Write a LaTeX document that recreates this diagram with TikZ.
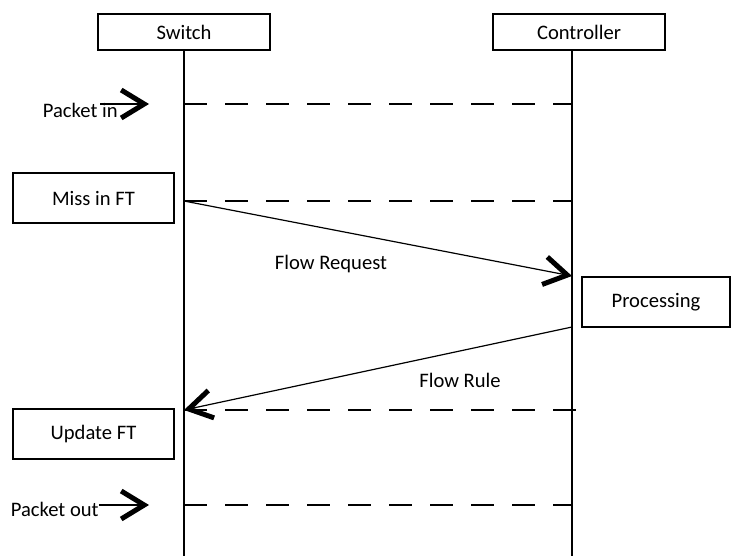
\documentclass[tikz,border=0pt]{standalone}
\usepackage{fontspec}
\setmainfont{Carlito}
\usetikzlibrary{arrows.meta,positioning}

\tikzset{
  actor/.style={draw,line width=0.6pt,inner sep=0pt,minimum width=86pt,minimum height=18pt},
  stepbox/.style={draw,line width=0.6pt,inner sep=0pt,minimum width=80.5pt,minimum height=25pt},
  lifeline/.style={line width=0.6pt},
  guide/.style={line width=0.6pt,dash pattern=on 11.5pt off 9pt},
  msg/.style={line width=0.6pt,-{Straight Barb[length=11.5pt,width=14pt,line width=2.5pt]}},
  lbl/.style={inner sep=0pt}
}

\begin{document}
\begin{tikzpicture}[x=0.5pt,y=-0.5pt,font=\fontsize{10.3}{12}\selectfont]
    \useasboundingbox (0,0) rectangle (731,556);

    % heads and lifelines
    \node[actor] (sw) at (184,32) {Switch};
    \node[actor] (ctl) at (579,32) {Controller};
    \coordinate (swEnd) at (184,556);
    \coordinate (ctlEnd) at (572,556);
    \draw[lifeline] (sw.south) -- (swEnd);
    \draw[lifeline] (ctlEnd |- ctl.south) -- (ctlEnd);

    % points where the messages meet the lifelines
    \foreach \n/\y in {1/104,2/201,3/276,4/327,5/410,6/505}
    {
      \coordinate (s\n) at (184,\y);
      \coordinate (c\n) at (572,\y);
    }
    \coordinate (c5x) at (582,410);

    % steps
    \node[stepbox] (miss) at (93.5,198) {Miss in FT};
    \node[stepbox,minimum width=74pt] (proc) at (656,302) {Processing};
    \node[stepbox] (upd) at (93.5,434) {Update FT};

    % packet in
    \node[lbl,anchor=base east] (pin) at (118,117) {Packet in};
    \coordinate (pinTail) at (100,104);
    \coordinate (pinTip) at (149,104);
    \draw[msg] (pinTail) -- (pinTip);
    \draw[guide] (s1) -- (c1);

    % flow request
    \draw[guide] (s2) -- (c2);
    \draw[msg] (s2) -- (c3);
    \node[lbl] (req) at (331,264) {Flow Request};

    % flow rule
    \draw[msg] (c4) -- (s5);
    \draw[guide] (s5) -- (c5x);
    \node[lbl] (rule) at (460,380) {Flow Rule};

    % packet out
    \node[lbl,anchor=base east] (pout) at (99,516) {Packet out};
    \coordinate (poutTail) at (99,505);
    \coordinate (poutTip) at (149,505);
    \draw[msg] (poutTail) -- (poutTip);
    \draw[guide] (s6) -- (c6);
\end{tikzpicture}
\end{document}
